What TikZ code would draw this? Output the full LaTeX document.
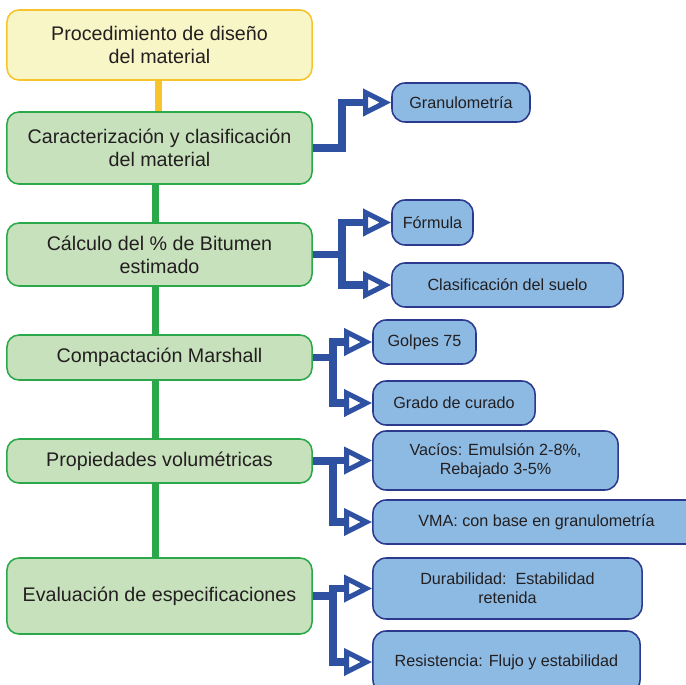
\documentclass[tikz,border=0pt]{standalone}
\usepackage{fontspec}
\setmainfont{Liberation Sans}
\usetikzlibrary{arrows.meta}

\definecolor{amarillo}{HTML}{F8F6C6}
\definecolor{amarilloborde}{HTML}{F7C52B}
\definecolor{verde}{HTML}{C7E1BC}
\definecolor{verdeborde}{HTML}{2BA84A}
\definecolor{azul}{HTML}{8DBAE3}
\definecolor{azulborde}{HTML}{2C3A8E}
\definecolor{azullinea}{HTML}{2E51A2}
\definecolor{texto}{HTML}{231F20}

\begin{document}
\begin{tikzpicture}[x=0.025cm, y=-0.025cm,
  topbox/.style={draw=amarilloborde, fill=amarillo, line width=1.1pt, rounded corners=0.3cm,
    minimum width=7.625cm, inner sep=0pt, align=center, text=texto,
    font=\fontsize{14}{16.5}\selectfont},
  greenbox/.style={draw=verdeborde, fill=verde, line width=1.1pt, rounded corners=0.3cm,
    minimum width=7.625cm, inner sep=0pt, align=center, text=texto,
    font=\fontsize{14}{16.5}\selectfont},
  bluebox/.style={draw=azulborde, fill=azul, line width=1.1pt, rounded corners=0.33cm,
    inner sep=0pt, align=center, text=texto,
    font=\fontsize{11.5}{13.7}\selectfont},
  tronco/.style={line width=5pt},
  rama/.style={draw=azullinea, line width=5.6pt,
    -{Triangle[open, length=20pt, width=19pt, line width=3.6pt]}}]

\useasboundingbox (0,0) rectangle (686,685);

% main column
\node[topbox, minimum height=1.75cm] (top) at (159.5,45) {Procedimiento de diseño\\del material};
\node[greenbox, minimum height=1.8cm] (g1) at (159.5,148) {Caracterización y clasificación\\del material};
\node[greenbox, minimum height=1.575cm] (g2) at (159.5,254.5) {Cálculo del \% de Bitumen\\estimado};
\node[greenbox, minimum height=1.125cm] (g3) at (159.5,357.5) {Compactación Marshall};
\node[greenbox, minimum height=1.1cm] (g4) at (159.5,461) {Propiedades volumétricas};
\node[greenbox, minimum height=1.9cm] (g5) at (159.5,596) {Evaluación de especificaciones};

\draw[tronco, amarilloborde] ([xshift=-1pt]top.south) -- ([xshift=-1pt]g1.north);
\draw[tronco, verdeborde] ([xshift=-3pt]g1.south) -- ([xshift=-3pt]g2.north);
\draw[tronco, verdeborde] ([xshift=-3pt]g2.south) -- ([xshift=-3pt]g3.north);
\draw[tronco, verdeborde] ([xshift=-3pt]g3.south) -- ([xshift=-3pt]g4.north);
\draw[tronco, verdeborde] ([xshift=-3pt]g4.south) -- ([xshift=-3pt]g5.north);

% right side
\node[bluebox, minimum width=3.45cm, minimum height=0.975cm] (b1) at (461,102.5) {Granulometría};
\node[bluebox, minimum width=2.025cm, minimum height=1.125cm] (b2a) at (432.5,222.5) {Fórmula};
\node[bluebox, minimum width=5.775cm, minimum height=1.1cm] (b2b) at (507.5,285) {Clasificación del suelo};
\node[bluebox, minimum width=2.575cm, minimum height=1.1cm] (b3a) at (424.5,342) {Golpes 75};
\node[bluebox, minimum width=4.05cm, minimum height=1.1cm] (b3b) at (454,403) {Grado de curado};
\node[bluebox, minimum width=6.125cm, minimum height=1.475cm] (b4a) at (495.5,460.5) {Vacíos: Emulsión 2-8\%,\\Rebajado 3-5\%};
\node[bluebox, minimum width=8.175cm, minimum height=1.1cm] (b4b) at (536.5,522) {VMA: con base en granulometría};
\node[bluebox, minimum width=6.725cm, minimum height=1.525cm] (b5a) at (507.5,588.5) {Durabilidad:\ \ Estabilidad\\retenida};
\node[bluebox, minimum width=6.675cm, minimum height=1.55cm] (b5b) at (506.5,662) {Resistencia: Flujo y estabilidad};

\draw[rama] (g1.east) -- ++(29,0) |- (b1.west);
\draw[rama] (g2.east) -- ++(29,0) coordinate (t2) |- (b2a.west);
\draw[rama] (t2) |- (b2b.west);
\draw[rama] (g3.east) -- ++(20,0) coordinate (t3) |- (b3a.west);
\draw[rama] (t3) |- (b3b.west);
\draw[rama] (g4.east) -- ++(20,0) coordinate (t4) |- (b4a.west);
\draw[rama] (t4) |- (b4b.west);
\draw[rama] (g5.east) -- ++(20,0) coordinate (t5) |- (b5a.west);
\draw[rama] (t5) |- (b5b.west);

\end{tikzpicture}
\end{document}
